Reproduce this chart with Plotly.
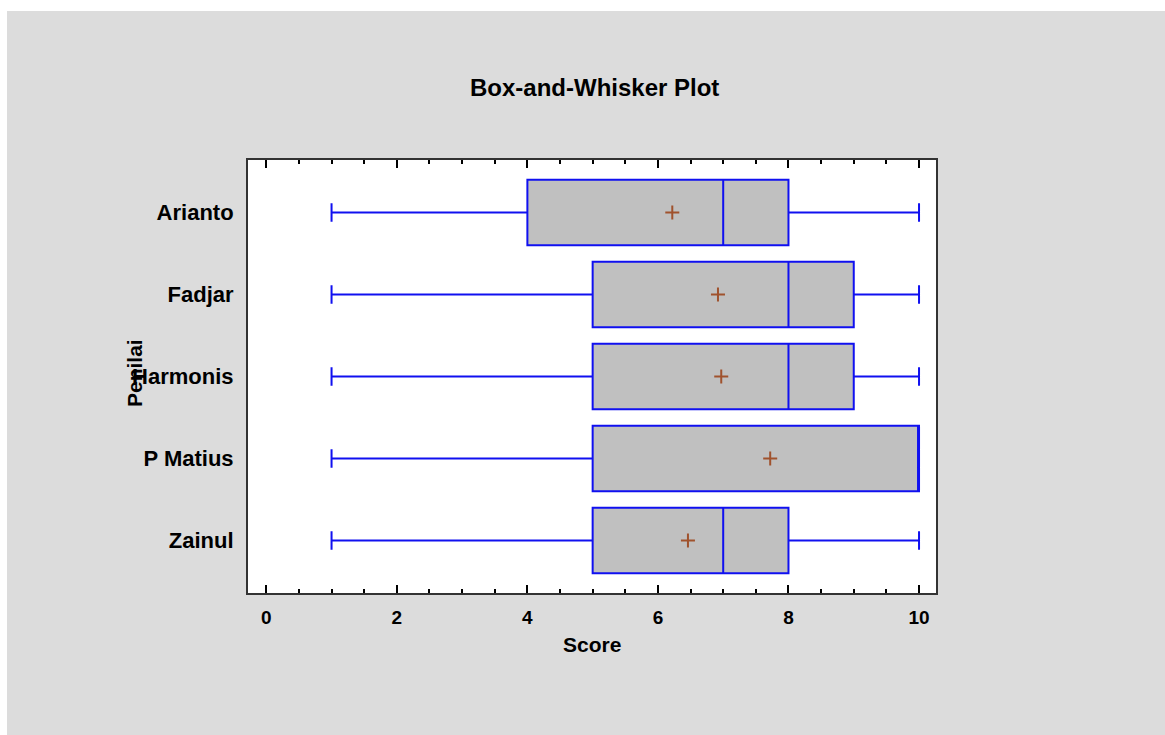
import plotly.graph_objects as go

# ---- data ----
raters = ["Arianto", "Fadjar", "Harmonis", "P Matius", "Zainul"]
minimum = [1, 1, 1, 1, 1]
q1 = [4, 5, 5, 5, 5]
median = [7, 8, 8, 10, 7]
q3 = [8, 9, 9, 10, 8]
maximum = [10, 10, 10, 10, 10]
means = [6.22, 6.92, 6.97, 7.72, 6.46]
x_tick_vals = [0, 2, 4, 6, 8, 10]
x_tick_text = ["0", "2", "4", "6", "8", "10"]

FONT = "Liberation Sans, Arial, sans-serif"

fig = go.Figure()
fig.add_trace(go.Box(
    y=raters,
    q1=q1, median=median, q3=q3,
    lowerfence=minimum, upperfence=maximum,
    orientation="h",
    boxpoints=False,
    fillcolor="#c0c0c0",
    line=dict(color="#1010f0", width=2),
    whiskerwidth=0.28,
    width=0.8,
    hoverinfo="skip",
    showlegend=False,
))
fig.add_trace(go.Scatter(
    x=means, y=raters, mode="markers",
    marker=dict(symbol="cross-thin", size=10,
                line=dict(color="#a0522d", width=2), color="#a0522d"),
    hoverinfo="skip", showlegend=False,
))

W, H = 1165, 735
L, R, T, B = 248, 936, 160, 593
pw, ph = R - L, B - T

def px_x(p):
    return (p - L) / pw

def px_y(p):
    return (B - p) / ph

fig.update_layout(
    width=W, height=H,
    margin=dict(l=L, r=W - R, t=T, b=H - B),
    paper_bgcolor="white",
    plot_bgcolor="rgba(0,0,0,0)",
    font=dict(family=FONT, color="black"),
    shapes=[
        dict(type="rect", xref="paper", yref="paper", layer="below",
             x0=px_x(7), x1=px_x(W + 5), y0=px_y(H + 5), y1=px_y(11),
             fillcolor="#dcdcdc", line=dict(width=0)),
        dict(type="rect", xref="paper", yref="paper", layer="below",
             x0=0, x1=1, y0=0, y1=1,
             fillcolor="white", line=dict(width=0)),
    ],
    xaxis=dict(
        range=[-0.28, 10.26],
        tickvals=x_tick_vals, ticktext=x_tick_text,
        ticks="inside", ticklen=8, tickwidth=2, tickcolor="black",
        minor=dict(dtick=0.5, ticks="inside", ticklen=4, tickwidth=1.5, tickcolor="black"),
        showgrid=False, zeroline=False,
        showline=True, linecolor="#333333", linewidth=2, mirror="allticks",
        tickfont=dict(family=FONT, size=19, weight="bold"),
        ticklabelstandoff=6,
    ),
    yaxis=dict(
        type="category",
        categoryorder="array", categoryarray=raters,
        range=[4.64, -0.64],
        ticks="", showgrid=False, zeroline=False,
        showline=True, linecolor="#333333", linewidth=2, mirror=True,
        ticklabelstandoff=8,
        tickfont=dict(family=FONT, size=22, weight="bold"),
    ),
    annotations=[
        dict(text="Box-and-Whisker Plot", xref="paper", yref="paper",
             x=px_x(594), y=px_y(88), xanchor="center", yanchor="middle",
             showarrow=False, font=dict(family=FONT, size=24, weight="bold")),
        dict(text="Score", xref="paper", yref="paper",
             x=px_x(592), y=px_y(644), xanchor="center", yanchor="middle",
             showarrow=False, font=dict(family=FONT, size=21, weight="bold")),
        dict(text="Penilai", xref="paper", yref="paper", textangle=-90,
             x=px_x(134), y=px_y(373), xanchor="center", yanchor="middle",
             showarrow=False, font=dict(family=FONT, size=21, weight="bold")),
    ],
)

fig.write_html("out.html", config={"displayModeBar": False},
               post_script="document.body.style.margin='0';")
